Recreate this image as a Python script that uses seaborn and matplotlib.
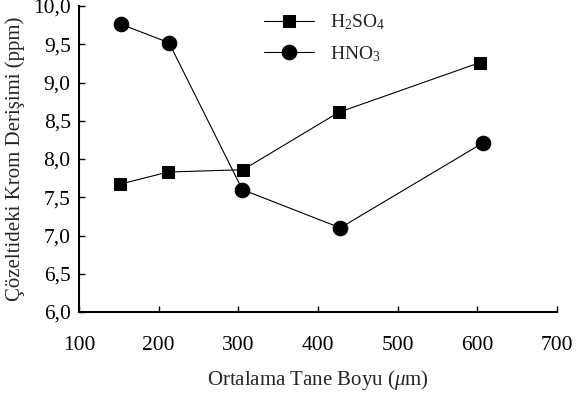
import matplotlib
matplotlib.use("Agg")
import matplotlib.pyplot as plt
from matplotlib.ticker import FuncFormatter, MultipleLocator
import seaborn as sns
import pandas as pd

# Data
h2so4_x = [151, 212, 306, 426, 603]
h2so4_y = [7.67, 7.83, 7.86, 8.61, 9.26]
hno3_x = [153, 213, 305, 428, 607]
hno3_y = [9.76, 9.52, 7.60, 7.10, 8.21]
series_labels = ["H$_2$SO$_4$", "HNO$_3$"]
xlabel = "Ortalama Tane Boyu ($\\mu$m)"
ylabel = "Çözeltideki Krom Derişimi (ppm)"

sns.set_theme(style="white")
plt.rcParams["font.family"] = ["Liberation Serif", "DejaVu Serif"]
plt.rcParams["mathtext.fontset"] = "custom"
plt.rcParams["mathtext.rm"] = "Liberation Serif"
plt.rcParams["mathtext.it"] = "Liberation Serif:italic"

df1 = pd.DataFrame({"x": h2so4_x, "y": h2so4_y})
df2 = pd.DataFrame({"x": hno3_x, "y": hno3_y})

fig = plt.figure(figsize=(5.79, 4.0), dpi=100)
ax = fig.add_axes([79 / 579, 88 / 400, (557 - 79) / 579, (312 - 6) / 400])

sns.lineplot(data=df1, x="x", y="y", ax=ax, color="black", marker="s",
             markersize=8.5, linewidth=0.8, markeredgecolor="black",
             label=series_labels[0])
sns.lineplot(data=df2, x="x", y="y", ax=ax, color="black", marker="o",
             markersize=10.5, linewidth=0.8, markeredgecolor="black",
             label=series_labels[1])

ax.set_xlim(100, 700)
ax.set_ylim(6.0, 10.0)
ax.xaxis.set_major_locator(MultipleLocator(100))
ax.yaxis.set_major_locator(MultipleLocator(0.5))
ax.yaxis.set_major_formatter(FuncFormatter(lambda v, p: f"{v:.1f}".replace(".", ",")))
ax.xaxis.set_major_formatter(FuncFormatter(lambda v, p: f"{int(round(v))}"))

for s in ["top", "right"]:
    ax.spines[s].set_visible(False)
for s in ["left", "bottom"]:
    ax.spines[s].set_color("black")
    ax.spines[s].set_linewidth(1.5)

ax.tick_params(axis="both", direction="in", length=4, width=1, colors="black",
               labelsize=15.5, left=True, bottom=True)
ax.tick_params(axis="x", pad=17)
ax.tick_params(axis="y", pad=6)

ax.set_xlabel(xlabel, fontsize=15, labelpad=10)
ax.set_ylabel(ylabel, fontsize=15, labelpad=6)

leg = ax.legend(loc="upper left", bbox_to_anchor=(0.35, 1.035), frameon=False,
                fontsize=14, handlelength=2.6, handletextpad=0.8,
                labelspacing=0.6)

fig.savefig("out.png", dpi=100)
